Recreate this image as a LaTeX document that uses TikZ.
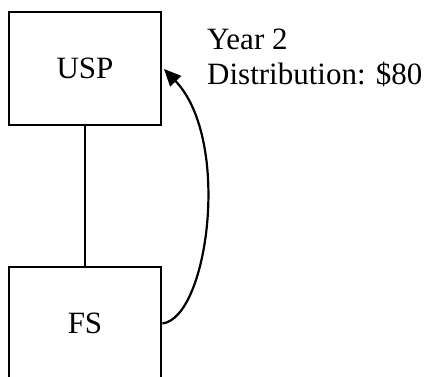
\documentclass[tikz,border=0pt]{standalone}
\usepackage{fontspec}
\setmainfont{Liberation Serif}
\usetikzlibrary{arrows.meta}
\begin{document}
\begin{tikzpicture}[x=1pt,y=-1pt,
  entity/.style={draw, line width=2.8pt, minimum width=152pt, minimum height=113pt, inner sep=0pt, font=\fontsize{31}{36}\selectfont},
  conn/.style={line width=2.2pt},
  lbl/.style={font=\fontsize{31}{35}\selectfont, align=left, inner sep=0pt}]
\useasboundingbox (0,0) rectangle (428,377);
\node[entity] (usp) at (85,68.5) {USP};
\node[entity] (fs) at (85,323.5) {FS};
\draw[conn] (usp.south) -- (fs.north);
\coordinate (tip) at (164,69);
\draw[conn, -{Triangle[length=17pt, width=15pt]}] (fs.east) .. controls (208,318) and (232,140) .. (tip);
\node[lbl, anchor=base west] (note) at (207,85) {Year 2\\Distribution: \$80};
\end{tikzpicture}
\end{document}
